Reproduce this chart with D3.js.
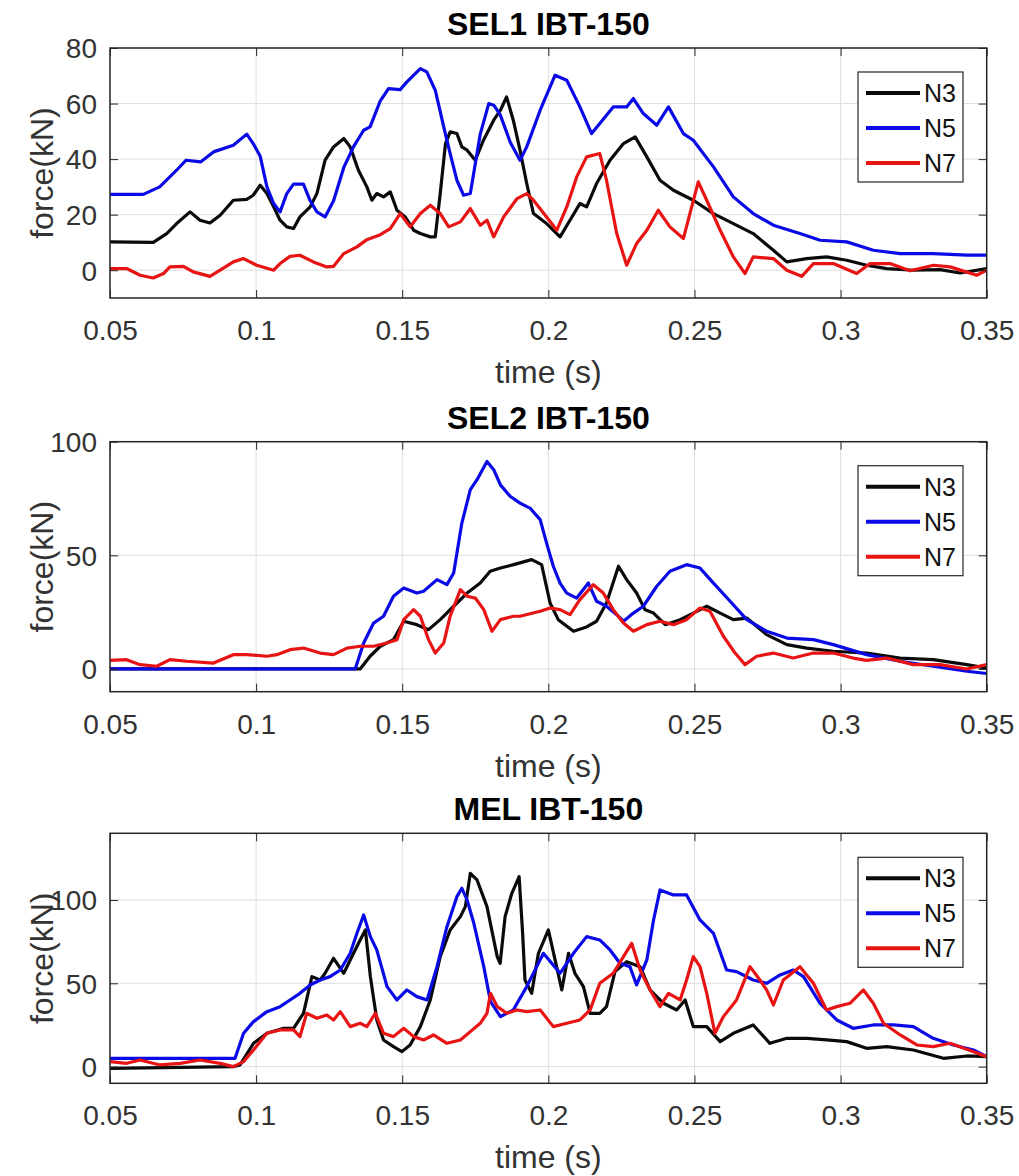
<!DOCTYPE html>
<html>
<head>
<meta charset="utf-8">
<script src="https://cdn.jsdelivr.net/npm/d3@7"></script>
<style>
  body { margin: 0; background: #fff; }
  svg text { font-family: "Liberation Sans", Arial, sans-serif; }
</style>
</head>
<body>
<div id="chart"></div>
<script>
// ---- data, [time (s), force (kN)] ----
const sel1N3 = [[0.05,10.2],[0.0648,10],[0.0694,13.2],[0.0728,16.8],[0.0774,21],[0.0808,18],[0.0842,17],[0.0877,19.8],[0.0922,25.2],[0.0968,25.5],[0.099,27],[0.1014,30.6],[0.1037,27.6],[0.106,22.8],[0.1082,18],[0.1105,15.6],[0.1128,15],[0.115,19.2],[0.1185,22.8],[0.1208,27.6],[0.1236,39.6],[0.1265,44.4],[0.13,47.4],[0.1322,44.4],[0.135,36],[0.1379,30],[0.1396,25.2],[0.1413,27.6],[0.1436,26.4],[0.1459,28.2],[0.1482,21.6],[0.151,19.2],[0.1539,14.4],[0.1562,13.2],[0.1596,12],[0.1613,12],[0.163,27.6],[0.1648,45.6],[0.1664,49.8],[0.1687,49.2],[0.1704,44.4],[0.1722,43.2],[0.175,39.6],[0.1778,46.8],[0.1813,54],[0.1836,57.6],[0.1857,62.4],[0.188,54],[0.1903,43.2],[0.1926,31.2],[0.1949,20.4],[0.1994,16.8],[0.204,12],[0.2074,18],[0.2108,24],[0.2131,22.8],[0.2165,31.2],[0.2211,39.6],[0.2257,45.6],[0.2297,48],[0.2337,40.8],[0.2382,32.4],[0.2428,28.8],[0.2496,25.2],[0.2565,20.4],[0.2633,16.8],[0.2701,13.2],[0.277,7.2],[0.2816,3],[0.2884,4.2],[0.2952,4.8],[0.3021,3.6],[0.3089,1.8],[0.3158,0.6],[0.3249,0],[0.334,0.2],[0.3409,-1],[0.35,0.6]];
const sel1N5 = [[0.05,27.3],[0.0614,27.3],[0.067,30],[0.0728,36],[0.076,39.6],[0.081,39],[0.0854,42.6],[0.0922,45],[0.0968,49],[0.099,45.6],[0.1014,41],[0.1037,30],[0.106,24],[0.1082,21],[0.1105,27.6],[0.1128,31],[0.1162,31],[0.1185,25],[0.1208,21],[0.1236,19.2],[0.1265,25],[0.13,37],[0.1333,44.4],[0.1368,50.4],[0.139,51.6],[0.1425,61],[0.1453,65.4],[0.1493,65],[0.1516,67.8],[0.1562,72.6],[0.1584,71.4],[0.1613,64.8],[0.1642,51.6],[0.1664,42],[0.1687,32.4],[0.171,27],[0.1733,27.6],[0.1767,49],[0.1796,60],[0.1813,59.4],[0.1835,56],[0.187,46],[0.1903,39.6],[0.1926,44.4],[0.1972,57.6],[0.2023,70.2],[0.2063,68.4],[0.2108,58.8],[0.2148,49.2],[0.2176,52.8],[0.2222,58.8],[0.2268,58.8],[0.2291,61.8],[0.2325,56.4],[0.2371,52.2],[0.2411,58.8],[0.2462,49.2],[0.2496,46.8],[0.2565,37.2],[0.2633,26.4],[0.2701,20.4],[0.277,16.2],[0.2861,13.2],[0.293,10.8],[0.3021,10.2],[0.3112,7.2],[0.3204,6],[0.3317,6],[0.3432,5.4],[0.35,5.4]];
const sel1N7 = [[0.05,0.6],[0.0557,0.6],[0.0603,-1.8],[0.0648,-2.8],[0.0683,-1.2],[0.0705,1.2],[0.0751,1.4],[0.0785,-0.6],[0.0842,-2.2],[0.0877,0],[0.0922,3],[0.0957,4.2],[0.1002,1.8],[0.106,0],[0.1082,2.4],[0.1116,5],[0.115,5.4],[0.1196,3],[0.1242,1.2],[0.1265,1.4],[0.13,6],[0.1345,8.4],[0.1379,11],[0.1425,12.8],[0.1459,15],[0.1493,20.4],[0.1527,15.6],[0.1562,20.4],[0.1596,23.4],[0.163,20.4],[0.1659,15.6],[0.1699,17.4],[0.1733,22.2],[0.1767,16.2],[0.179,18],[0.1813,12],[0.1847,19.2],[0.1893,25.8],[0.1926,27.6],[0.1949,25.2],[0.1994,19.2],[0.2029,14.4],[0.2063,22.8],[0.2097,33.6],[0.2131,40.8],[0.2176,42],[0.2199,32.4],[0.2234,13.2],[0.2268,1.8],[0.2302,9.6],[0.2337,14.4],[0.2376,21.6],[0.2416,15.6],[0.2462,11.4],[0.2513,31.8],[0.2542,25.2],[0.2588,14.4],[0.2633,4.8],[0.2673,-1.2],[0.2701,4.8],[0.277,4.2],[0.2816,0],[0.2867,-2.2],[0.2907,2.4],[0.2975,2.4],[0.3055,-1.2],[0.3101,2.4],[0.3169,2.4],[0.3238,-0.2],[0.3318,1.8],[0.3375,1.2],[0.3466,-1.8],[0.35,0]];

const sel2N3 = [[0.05,0],[0.1356,0],[0.139,5.6],[0.1425,10],[0.147,12.9],[0.1505,21],[0.155,19.5],[0.159,17.3],[0.163,21.7],[0.1676,27.6],[0.1722,33.4],[0.1767,37.8],[0.1801,43],[0.1836,44.4],[0.1881,45.9],[0.1943,48.1],[0.1977,45.9],[0.2006,29],[0.2034,21.7],[0.2086,16.6],[0.2131,18.5],[0.2165,21],[0.2199,29],[0.224,45.2],[0.2268,39.3],[0.2302,33.4],[0.2331,26.1],[0.236,24.6],[0.24,19.5],[0.2451,21.7],[0.2496,24.6],[0.2542,27.6],[0.2588,24.6],[0.2633,21.7],[0.2679,22.4],[0.2747,15.1],[0.2816,10.7],[0.2884,9.2],[0.2975,7.8],[0.3089,7],[0.3204,4.8],[0.3317,4.1],[0.3432,1.9],[0.35,0.4]];
const sel2N5 = [[0.05,0],[0.1339,0],[0.1368,11.4],[0.1402,20.2],[0.1436,23.2],[0.147,32],[0.1505,35.6],[0.155,33.4],[0.1573,34.2],[0.1619,39.3],[0.1653,37.1],[0.1676,42.2],[0.1704,64.2],[0.1733,78.9],[0.1756,83.3],[0.179,91.3],[0.1813,87.7],[0.1836,81],[0.1869,76],[0.1903,73],[0.1937,70.8],[0.1972,65.7],[0.1994,55.4],[0.2017,45.2],[0.204,37.8],[0.2063,33.4],[0.2097,31.2],[0.2137,37.8],[0.2165,29.8],[0.2199,27.6],[0.2234,23.9],[0.2257,21],[0.2291,24.6],[0.2325,27.6],[0.2371,36.4],[0.2416,43],[0.2473,45.9],[0.2519,44.4],[0.2565,37.8],[0.2622,29.8],[0.2679,21.7],[0.2747,16.6],[0.2816,13.6],[0.2907,12.9],[0.2975,10.7],[0.3032,8.5],[0.3089,6.3],[0.3204,3.4],[0.3317,1.2],[0.3432,-1],[0.35,-2]];
const sel2N7 = [[0.05,3.8],[0.0557,4.1],[0.0603,1.9],[0.066,1.2],[0.0705,4.1],[0.0763,3.4],[0.0854,2.6],[0.0922,6.3],[0.0968,6.3],[0.1037,5.6],[0.1071,6.3],[0.1116,8.5],[0.1162,9.2],[0.1219,7],[0.1265,6.3],[0.1311,9.2],[0.1356,10],[0.1402,10],[0.1447,11.4],[0.1482,12.9],[0.1505,21.7],[0.1539,26.1],[0.1562,23.2],[0.159,12.9],[0.1613,7],[0.1642,11.4],[0.1664,23.2],[0.1699,34.9],[0.1722,32],[0.175,31.2],[0.1779,26.1],[0.1807,16.6],[0.1836,21.7],[0.1881,23.2],[0.1903,23.2],[0.1972,25.4],[0.2006,26.8],[0.204,26.1],[0.2074,23.9],[0.2108,30.5],[0.2154,37.1],[0.2188,33.4],[0.2222,26.1],[0.2257,20.2],[0.2291,16.6],[0.2337,19.5],[0.2382,21],[0.2428,19.5],[0.2473,21.7],[0.2519,26.8],[0.2553,25.4],[0.2599,14.4],[0.2639,7],[0.2673,1.9],[0.2713,5.6],[0.277,7],[0.2838,4.8],[0.2907,7],[0.2975,7],[0.3043,4.8],[0.3089,3.8],[0.3158,4.8],[0.3249,1.9],[0.334,1.9],[0.3432,0],[0.35,1.9]];

const melN3 = [[0.05,-1],[0.0922,0],[0.0945,1],[0.0991,14],[0.1037,20],[0.1094,23],[0.1128,23],[0.1162,32],[0.1191,54],[0.1219,52],[0.1236,56],[0.1265,65],[0.13,56],[0.1322,64],[0.1356,76],[0.1374,82],[0.1391,54],[0.1413,28],[0.1436,16],[0.147,12],[0.1499,9],[0.1527,13],[0.1562,24],[0.1596,40],[0.163,66],[0.1664,82],[0.1699,90],[0.1716,96],[0.1733,116],[0.1756,112],[0.179,96],[0.1825,66],[0.1835,62],[0.1852,90],[0.1875,104],[0.19,114],[0.1912,80],[0.192,52],[0.1943,44],[0.1966,68],[0.2,82],[0.2023,64],[0.2046,46],[0.2069,68],[0.2091,56],[0.212,48],[0.2143,32],[0.2176,32],[0.2199,36],[0.2228,57],[0.2268,63],[0.2314,60],[0.2348,46],[0.2394,38],[0.2439,34],[0.2468,40],[0.2496,24],[0.2542,24],[0.2588,15],[0.2633,20],[0.2701,25],[0.2758,14],[0.2816,17],[0.2884,17],[0.2952,16],[0.3021,15],[0.3089,11],[0.3158,12],[0.3249,10],[0.3352,5],[0.3432,6.4],[0.35,6]];
const melN5 = [[0.05,5],[0.0928,5],[0.0957,20],[0.0991,27],[0.1037,33],[0.1082,36],[0.1116,40],[0.115,44],[0.1185,49],[0.1219,52],[0.1253,54],[0.1288,58],[0.1322,68],[0.1345,80],[0.1368,91],[0.1391,78],[0.1413,70],[0.1448,48],[0.1482,40],[0.1516,46],[0.155,42],[0.1585,40],[0.1619,60],[0.1653,84],[0.1687,102],[0.1704,107],[0.1722,100],[0.1745,86],[0.1779,60],[0.1802,39],[0.1836,30],[0.188,34],[0.1926,48],[0.1983,68],[0.204,56],[0.2086,68],[0.2131,78],[0.2176,76],[0.2211,70],[0.2245,62],[0.2279,60],[0.2302,49],[0.2337,64],[0.236,88],[0.2382,106],[0.2428,103],[0.2473,103],[0.2519,88],[0.2565,80],[0.261,58],[0.2644,57],[0.2701,52],[0.2747,50],[0.2793,55],[0.2838,58],[0.2873,54],[0.293,38],[0.2987,28],[0.3043,23],[0.3112,25],[0.3181,25],[0.3249,24],[0.3317,17],[0.3386,13],[0.3455,10],[0.35,6]];
const melN7 = [[0.05,3],[0.0557,2],[0.0603,4],[0.0671,1],[0.074,2],[0.0808,4],[0.0877,2],[0.0922,0],[0.0957,3],[0.0991,10],[0.1037,20],[0.1082,22],[0.1128,22],[0.115,18],[0.1173,32],[0.1208,29],[0.1242,31],[0.1265,28],[0.1288,33],[0.1322,24],[0.1356,26],[0.1379,24],[0.1408,32],[0.1436,20],[0.147,18],[0.1505,23],[0.1539,18],[0.1573,16],[0.1607,19],[0.1653,14],[0.1699,16],[0.1733,21],[0.1767,26],[0.179,32],[0.1802,44],[0.1825,36],[0.1858,32],[0.1893,34],[0.1926,33],[0.1972,34],[0.2017,24],[0.2063,26],[0.2108,28],[0.2143,34],[0.2176,50],[0.2222,56],[0.2257,66],[0.2285,74],[0.2314,58],[0.2348,46],[0.2382,36],[0.2411,44],[0.2451,40],[0.2473,52],[0.2496,66],[0.2519,60],[0.2542,44],[0.257,20],[0.2599,30],[0.2644,40],[0.269,60],[0.2724,52],[0.2747,46],[0.277,37],[0.2804,52],[0.2861,60],[0.2907,50],[0.2952,34],[0.2987,36],[0.3032,38],[0.3078,46],[0.3112,38],[0.3147,26],[0.3204,19],[0.3261,13],[0.3317,12],[0.3375,14],[0.3455,9],[0.35,6]];

const seriesNames = ["N3", "N5", "N7"];
const seriesColors = ["#0a0a0a", "#0a0ae6", "#e81414"];
const xTicks = [0.05, 0.1, 0.15, 0.2, 0.25, 0.3, 0.35];
const xTickLabels = ["0.05", "0.1", "0.15", "0.2", "0.25", "0.3", "0.35"];

const panels = [
  { title: "SEL1 IBT-150", yDomain: [-10, 80],  yTicks: [0, 20, 40, 60, 80], series: [sel1N3, sel1N5, sel1N7] },
  { title: "SEL2 IBT-150", yDomain: [-10, 100], yTicks: [0, 50, 100],        series: [sel2N3, sel2N5, sel2N7] },
  { title: "MEL IBT-150",  yDomain: [-10, 140], yTicks: [0, 50, 100],        series: [melN3, melN5, melN7] }
];

// ---- layout ----
const svgWidth = 1019, svgHeight = 1176;
const plotLeft = 110, plotRight = 986.7, plotHeight = 250;
const plotTops = [48, 441.7, 833.3];

const svg = d3.select("#chart").append("svg")
  .attr("width", svgWidth)
  .attr("height", svgHeight);

svg.append("rect").attr("width", svgWidth).attr("height", svgHeight).attr("fill", "#fff");

const x = d3.scaleLinear().domain([0.05, 0.35]).range([plotLeft, plotRight]);

panels.forEach((p, i) => {
  const top = plotTops[i], bottom = top + plotHeight;
  const y = d3.scaleLinear().domain(p.yDomain).range([bottom, top]);
  const g = svg.append("g");

  // grid
  g.selectAll(".gx").data(xTicks).join("line")
    .attr("x1", d => x(d)).attr("x2", d => x(d))
    .attr("y1", top).attr("y2", bottom)
    .attr("stroke", "#dedede").attr("stroke-width", 1);
  g.selectAll(".gy").data(p.yTicks).join("line")
    .attr("x1", plotLeft).attr("x2", plotRight)
    .attr("y1", d => y(d)).attr("y2", d => y(d))
    .attr("stroke", "#dedede").attr("stroke-width", 1);

  // clip
  const clipId = "clip" + i;
  svg.append("clipPath").attr("id", clipId)
    .append("rect").attr("x", plotLeft).attr("y", top)
    .attr("width", plotRight - plotLeft).attr("height", plotHeight);

  const line = d3.line().x(d => x(d[0])).y(d => y(d[1]));
  g.append("g").attr("clip-path", `url(#${clipId})`)
    .selectAll("path").data(p.series).join("path")
    .attr("d", line)
    .attr("fill", "none")
    .attr("stroke", (d, k) => seriesColors[k])
    .attr("stroke-width", 3.2)
    .attr("stroke-linejoin", "round");

  // axes, ticks pointing inward on all four sides
  const axisColor = "#262626";
  g.append("g").attr("transform", `translate(0,${bottom})`)
    .call(d3.axisBottom(x).tickValues(xTicks).tickSizeInner(-8).tickSizeOuter(0).tickFormat((d, k) => xTickLabels[k]))
    .call(a => a.select(".domain").remove())
    .call(a => a.selectAll("line").attr("stroke", axisColor))
    .call(a => a.selectAll("text").attr("y", 42).attr("dy", null)
      .attr("font-size", 28).attr("fill", "#333"));
  g.append("g").attr("transform", `translate(0,${top})`)
    .call(d3.axisTop(x).tickValues(xTicks).tickSizeInner(-8).tickSizeOuter(0).tickFormat(""))
    .call(a => a.select(".domain").remove())
    .call(a => a.selectAll("line").attr("stroke", axisColor));
  g.append("g").attr("transform", `translate(${plotLeft},0)`)
    .call(d3.axisLeft(y).tickValues(p.yTicks).tickSizeInner(-8).tickSizeOuter(0))
    .call(a => a.select(".domain").remove())
    .call(a => a.selectAll("line").attr("stroke", axisColor))
    .call(a => a.selectAll("text").attr("x", -13).attr("dy", "0.35em")
      .attr("font-size", 28).attr("fill", "#333"));
  g.append("g").attr("transform", `translate(${plotRight},0)`)
    .call(d3.axisRight(y).tickValues(p.yTicks).tickSizeInner(-8).tickSizeOuter(0).tickFormat(""))
    .call(a => a.select(".domain").remove())
    .call(a => a.selectAll("line").attr("stroke", axisColor));

  // frame
  g.append("rect")
    .attr("x", plotLeft).attr("y", top)
    .attr("width", plotRight - plotLeft).attr("height", plotHeight)
    .attr("fill", "none").attr("stroke", axisColor).attr("stroke-width", 1.5);

  // title and labels
  g.append("text")
    .attr("x", (plotLeft + plotRight) / 2).attr("y", top - 13)
    .attr("text-anchor", "middle").attr("font-size", 32).attr("font-weight", "bold")
    .attr("fill", "#000").text(p.title);
  g.append("text")
    .attr("x", (plotLeft + plotRight) / 2).attr("y", bottom + 85)
    .attr("text-anchor", "middle").attr("font-size", 32).attr("fill", "#333")
    .text("time (s)");
  g.append("text")
    .attr("transform", `translate(53,${(top + bottom) / 2}) rotate(-90)`)
    .attr("text-anchor", "middle").attr("font-size", 32).attr("fill", "#333")
    .text("force(kN)");

  // legend
  const lx = 858, ly = top + 24;
  const legend = g.append("g").attr("transform", `translate(${lx},${ly})`);
  legend.append("rect").attr("width", 105).attr("height", 110)
    .attr("fill", "#fff").attr("stroke", axisColor).attr("stroke-width", 1.2);
  seriesNames.forEach((name, k) => {
    const ry = 21 + k * 35;
    legend.append("line").attr("x1", 8).attr("x2", 62).attr("y1", ry).attr("y2", ry)
      .attr("stroke", seriesColors[k]).attr("stroke-width", 4);
    legend.append("text").attr("x", 66).attr("y", ry).attr("dy", "0.36em")
      .attr("font-size", 25).attr("fill", "#111").text(name);
  });
});
</script>
</body>
</html>
